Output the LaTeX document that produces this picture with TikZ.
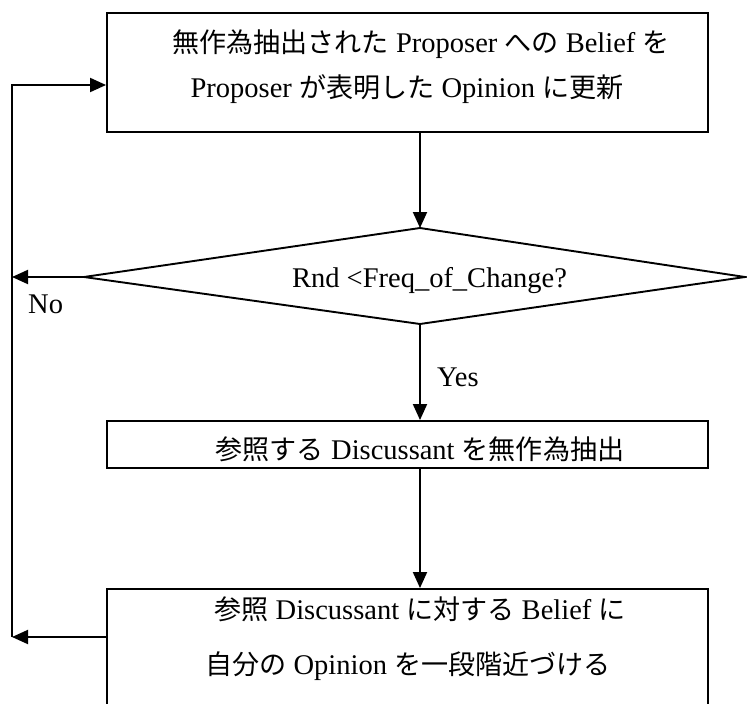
\documentclass[tikz,border=0pt]{standalone}
\usepackage{fontspec}
\setmainfont{Liberation Serif}
\newfontfamily\jpfont{Noto Sans CJK JP}[Scale=0.95]
\newcommand{\J}[1]{{\jpfont #1}}
\usetikzlibrary{arrows.meta}
\begin{document}
\begin{tikzpicture}[x=1pt,y=-1pt,
  box/.style={draw, line width=1.9pt, rectangle, inner sep=0pt},
  txt/.style={inner sep=0pt, anchor=base, font=\fontsize{28.5}{32}\selectfont},
  arr/.style={-{Triangle[length=16pt,width=14pt]}, line width=1.9pt}]
\clip (0,0) rectangle (747,704);
\fill[white] (0,0) rectangle (747,704);
% boxes
\node[box, minimum width=601pt, minimum height=119pt] (b1) at (407.5,72.5) {};
\node[box, minimum width=601pt, minimum height=47pt] (b2) at (407.5,444.5) {};
\node[box, minimum width=601pt, minimum height=121pt] (b3) at (407.5,649.5) {};
% diamond
\coordinate (dt) at (420,228);
\coordinate (db) at (420,324);
\coordinate (dl) at (84,277);
\coordinate (dr) at (745,277);
\draw[line width=1.9pt, line join=miter] (dt) -- (dr) -- (db) -- (dl) -- cycle;
% texts
\node[txt] (t1a) at (421,52) {\J{無作為抽出された} Proposer \J{への} Belief \J{を}};
\node[txt] (t1b) at (407,97) {Proposer \J{が表明した} Opinion \J{に更新}};
\node[txt] (td) at (429.5,287) {Rnd <Freq\_of\_Change?};
\node[txt] (t2) at (420,459) {\J{参照する} Discussant \J{を無作為抽出}};
\node[txt] (t3a) at (420,619) {\J{参照} Discussant \J{に対する} Belief \J{に}};
\node[txt] (t3b) at (408,674) {\J{自分の} Opinion \J{を一段階近づける}};
\node[txt, anchor=base west] (no) at (28,313) {No};
\node[txt, anchor=base west] (yes) at (437,386) {Yes};
% loop coordinates
\coordinate (lno) at (12,277);
\coordinate (lback) at (12,637);
\coordinate (ltop) at (12,85);
% connectors
\draw[arr] (b1.south -| dt) -- (dt);
\draw[arr] (db) -- (b2.north -| db);
\draw[arr] (b2.south -| db) -- (b3.north -| db);
\draw[arr] (dl) -- (lno);
\draw[arr] (b3.west |- lback) -- (lback);
\draw[arr] (lback) -- (ltop) -- (b1.west |- ltop);
\end{tikzpicture}
\end{document}
